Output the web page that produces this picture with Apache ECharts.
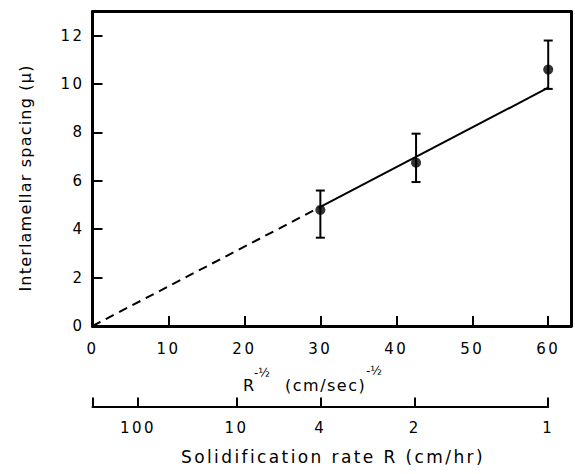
<!DOCTYPE html>
<html>
<head>
<meta charset="utf-8">
<script src="https://cdn.jsdelivr.net/npm/echarts@6/dist/echarts.min.js"></script>
<style>
html,body{margin:0;padding:0;background:#fff;}
#chart{width:575px;height:474px;}
</style>
</head>
<body>
<div id="chart"></div>
<script>
// ---- data ----
var pointX = [30, 42.6, 60];              // R^-1/2 (cm/sec)^-1/2
var pointY = [4.8, 6.75, 10.6];           // interlamellar spacing (micron)
var errLow = [3.65, 5.95, 9.8];
var errHigh = [5.6, 7.95, 11.8];
var dashedFitX = [0, 30];
var dashedFitY = [0, 4.92];
var solidFitX = [30, 60];
var solidFitY = [4.92, 9.85];
var xTicks = [0, 10, 20, 30, 40, 50, 60];
var yTicks = [0, 2, 4, 6, 8, 10, 12];
var rateTicks = [100, 10, 4, 2, 1];       // solidification rate R (cm/hr)

var FONT = 'DejaVu Sans';
function toRootR(r) { return 60 / Math.sqrt(r); } // (R/3600)^-1/2

var points = pointX.map(function (x, i) { return [x, pointY[i]]; });
var bars = pointX.map(function (x, i) { return [x, errLow[i], errHigh[i]]; });
var dashed = dashedFitX.map(function (x, i) { return [x, dashedFitY[i]]; });
var solid = solidFitX.map(function (x, i) { return [x, solidFitY[i]]; });
var rateVals = rateTicks.map(toRootR);

var frameAxis = {
  axisLine: {show: true, onZero: false, lineStyle: {color: '#000', width: 3}},
  axisTick: {show: false}, axisLabel: {show: false}, splitLine: {show: false}
};

var chart = echarts.init(document.getElementById('chart'), null, {renderer: 'svg'});
chart.setOption({
  animation: false,
  backgroundColor: '#fff',
  grid: [
    {left: 92.5, right: 4, top: 11.5, bottom: 148},
    {left: 92.5, right: 26.8, top: 396, height: 10.5}
  ],
  xAxis: [
    {
      type: 'value', gridIndex: 0, min: 0, max: 63, interval: 10, position: 'bottom',
      axisLine: {show: true, onZero: false, lineStyle: {color: '#000', width: 3}},
      axisTick: {show: true, inside: true, length: 10, lineStyle: {color: '#000', width: 2}, customValues: xTicks.slice(1)},
      axisLabel: {color: '#000', fontFamily: FONT, fontSize: 15, margin: 15, customValues: xTicks, formatter: function (v) { return String(v); }},
      splitLine: {show: false}
    },
    {
      type: 'value', gridIndex: 1, min: 0, max: 60, position: 'bottom',
      axisLine: {show: true, onZero: false, lineStyle: {color: '#000', width: 2}},
      axisTick: {show: true, inside: true, length: 9, lineStyle: {color: '#000', width: 2}, customValues: [0].concat(rateVals)},
      axisLabel: {color: '#000', fontFamily: FONT, fontSize: 15, margin: 14, customValues: rateVals,
        formatter: function (v) { return String(Math.round(3600 / (v * v))); }},
      splitLine: {show: false}
    },
    Object.assign({type: 'value', gridIndex: 0, min: 0, max: 63, position: 'top'}, frameAxis)
  ],
  yAxis: [
    {
      type: 'value', gridIndex: 0, min: 0, max: 13, interval: 2, position: 'left',
      axisLine: {show: true, onZero: false, lineStyle: {color: '#000', width: 3}},
      axisTick: {show: true, inside: true, length: 10, lineStyle: {color: '#000', width: 2}, customValues: yTicks.slice(1)},
      axisLabel: {color: '#000', fontFamily: FONT, fontSize: 15, margin: 8, customValues: yTicks, formatter: function (v) { return String(v); }},
      splitLine: {show: false}
    },
    {type: 'value', gridIndex: 1, show: false, min: 0, max: 1},
    Object.assign({type: 'value', gridIndex: 0, min: 0, max: 13, position: 'right'}, frameAxis)
  ],
  series: [
    {
      type: 'line', xAxisIndex: 0, yAxisIndex: 0, data: dashed, symbol: 'none',
      lineStyle: {color: '#000', width: 2, type: [9, 6]}, silent: true
    },
    {
      type: 'line', xAxisIndex: 0, yAxisIndex: 0, data: solid, symbol: 'none',
      lineStyle: {color: '#000', width: 2}, silent: true
    },
    {
      type: 'custom', xAxisIndex: 0, yAxisIndex: 0, data: bars,
      renderItem: function (params, api) {
        var x = api.value(0);
        var lo = api.coord([x, api.value(1)]);
        var hi = api.coord([x, api.value(2)]);
        var hw = 4.5;
        var st = {stroke: '#000', lineWidth: 2};
        return {
          type: 'group',
          children: [
            {type: 'line', shape: {x1: hi[0], y1: hi[1], x2: lo[0], y2: lo[1]}, style: st},
            {type: 'line', shape: {x1: hi[0] - hw, y1: hi[1], x2: hi[0] + hw, y2: hi[1]}, style: st},
            {type: 'line', shape: {x1: lo[0] - hw, y1: lo[1], x2: lo[0] + hw, y2: lo[1]}, style: st}
          ]
        };
      },
      silent: true
    },
    {
      type: 'scatter', xAxisIndex: 0, yAxisIndex: 0, data: points, symbol: 'circle', symbolSize: 10,
      itemStyle: {color: '#000'}, silent: true
    }
  ],
  graphic: [
    {
      type: 'text', x: 25, y: 178, rotation: Math.PI / 2,
      style: {text: 'Interlamellar spacing (μ)', font: '16px "DejaVu Sans"', fill: '#000', align: 'center', verticalAlign: 'middle'}
    },
    {type: 'text', x: 243, y: 385, style: {text: 'R', font: '16px "DejaVu Sans"', fill: '#000', align: 'left', verticalAlign: 'middle'}},
    {type: 'text', x: 254, y: 373, style: {text: '-½', font: '12px "DejaVu Sans"', fill: '#000', align: 'left', verticalAlign: 'middle'}},
    {type: 'text', x: 285, y: 385, style: {text: '(cm/sec)', font: '16px "DejaVu Sans"', fill: '#000', align: 'left', verticalAlign: 'middle'}},
    {type: 'text', x: 366, y: 371, style: {text: '-½', font: '12px "DejaVu Sans"', fill: '#000', align: 'left', verticalAlign: 'middle'}},
    {
      type: 'text', x: 333, y: 457,
      style: {text: 'Solidification rate R (cm/hr)', font: '17px "DejaVu Sans"', fill: '#000', align: 'center', verticalAlign: 'middle'}
    }
  ]
});

// widen the tracking of the text to match the spaced-out lettering of the reference
function applySpacing() {
  var texts = document.querySelectorAll('#chart svg text');
  texts.forEach(function (t) {
    var s = t.textContent;
    var ls = null;
    if (/^\d+$/.test(s)) ls = '2.5px';
    else if (s === 'Solidification rate R (cm/hr)') ls = '2.4px';
    else if (s === 'Interlamellar spacing (μ)') ls = '1.2px';
    else if (s === '(cm/sec)') ls = '1.5px';
    if (ls) t.style.letterSpacing = ls;
  });
}
chart.on('finished', applySpacing);
applySpacing();
setTimeout(applySpacing, 0);
setTimeout(applySpacing, 50);
</script>
</body>
</html>
